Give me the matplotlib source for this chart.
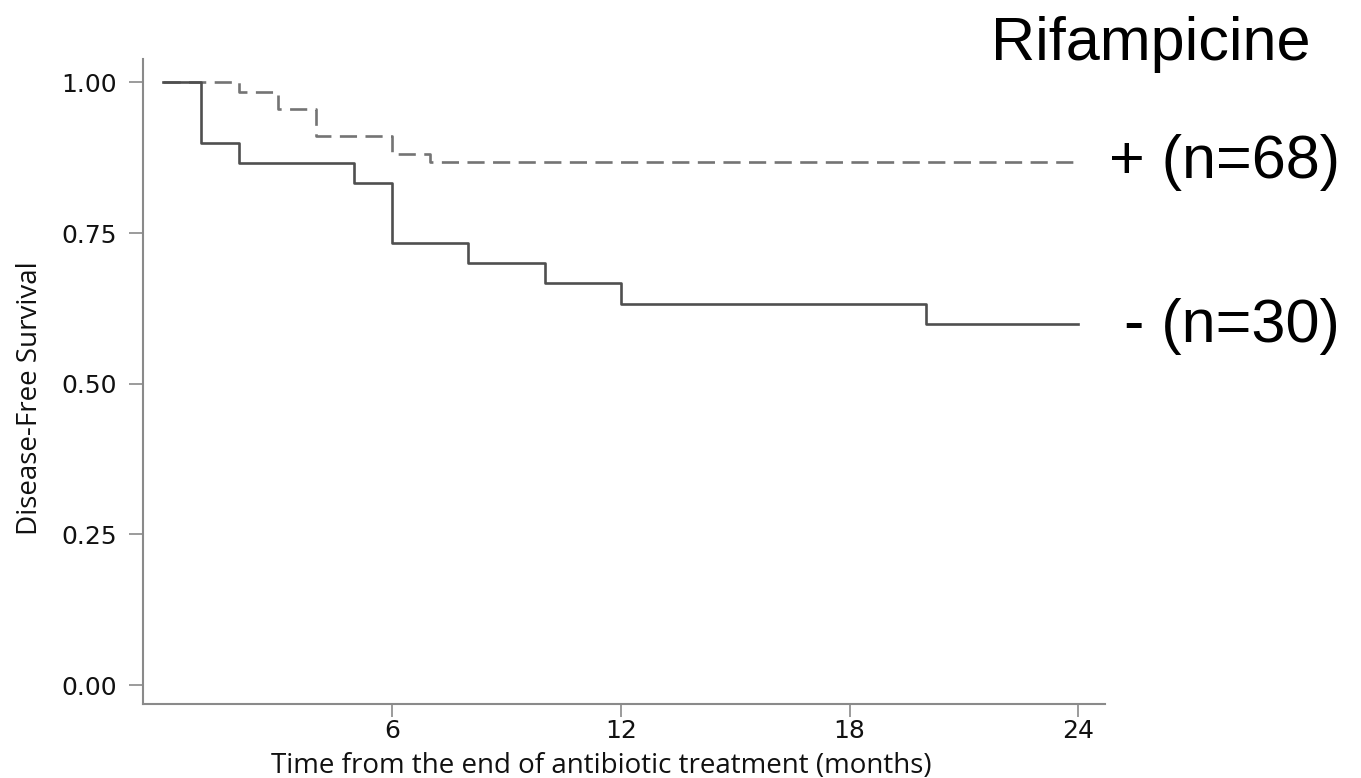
import matplotlib
matplotlib.use('Agg')
import matplotlib.pyplot as plt

# Kaplan-Meier steps
time_plus = [0, 2, 3, 4, 6, 7, 24]
surv_plus = [1.0, 0.985, 0.956, 0.912, 0.882, 0.868, 0.868]

time_minus = [0, 1, 2, 5, 6, 8, 10, 12, 20, 24]
surv_minus = [1.0, 0.90, 0.867, 0.833, 0.733, 0.70, 0.667, 0.633, 0.60, 0.60]

x_ticks = [6, 12, 18, 24]
y_ticks = [0.0, 0.25, 0.50, 0.75, 1.00]

W, H = 1361, 778
fig = plt.figure(figsize=(W / 100, H / 100), dpi=100)
ax = fig.add_axes([143 / W, 74 / H, 962 / W, 645 / H])

ax.step(time_plus, surv_plus, where='post', color='#747474', lw=1.9,
        linestyle=(0, (6.5, 3.2)))
ax.step(time_minus, surv_minus, where='post', color='#4f4f4f', lw=1.9)

ax.set_xlim(-0.53, 24.7)
ax.set_ylim(-0.0315, 1.039)

for s in ['top', 'right']:
    ax.spines[s].set_visible(False)
for s in ['left', 'bottom']:
    ax.spines[s].set_color('#8a8a8a')
    ax.spines[s].set_linewidth(1.5)

ax.set_xticks(x_ticks)
ax.set_xticklabels([str(t) for t in x_ticks])
ax.set_yticks(y_ticks)
ax.set_yticklabels(['%.2f' % v for v in y_ticks])
ax.tick_params(axis='y', length=10, width=1.2, color='#8a8a8a', pad=9,
               labelsize=18, labelcolor='#111111')
ax.tick_params(axis='x', length=9.5, width=1.2, color='#8a8a8a', pad=1,
               labelsize=18, labelcolor='#111111')

ax.set_xlabel('Time from the end of antibiotic treatment (months)',
              family='Open Sans', fontsize=20, color='#111111',
              va='center', ha='center')
ax.xaxis.set_label_coords(0.476, -0.096)
ax.set_ylabel('Disease-Free Survival', family='Open Sans', fontsize=20,
              color='#111111', va='center', ha='center')
ax.yaxis.set_label_coords(-0.1175, 0.474)

# group annotation on the right
fig.text(1151 / W, 718 / H, 'Rifampicine', family='Liberation Sans',
         fontsize=44, ha='center', va='baseline')
fig.text(1340 / W, 600 / H, '+ (n=68)', family='Liberation Sans',
         fontsize=44, ha='right', va='baseline')
fig.text(1340 / W, 436 / H, '- (n=30)', family='Liberation Sans',
         fontsize=44, ha='right', va='baseline')

fig.savefig('out.png', dpi=100)
